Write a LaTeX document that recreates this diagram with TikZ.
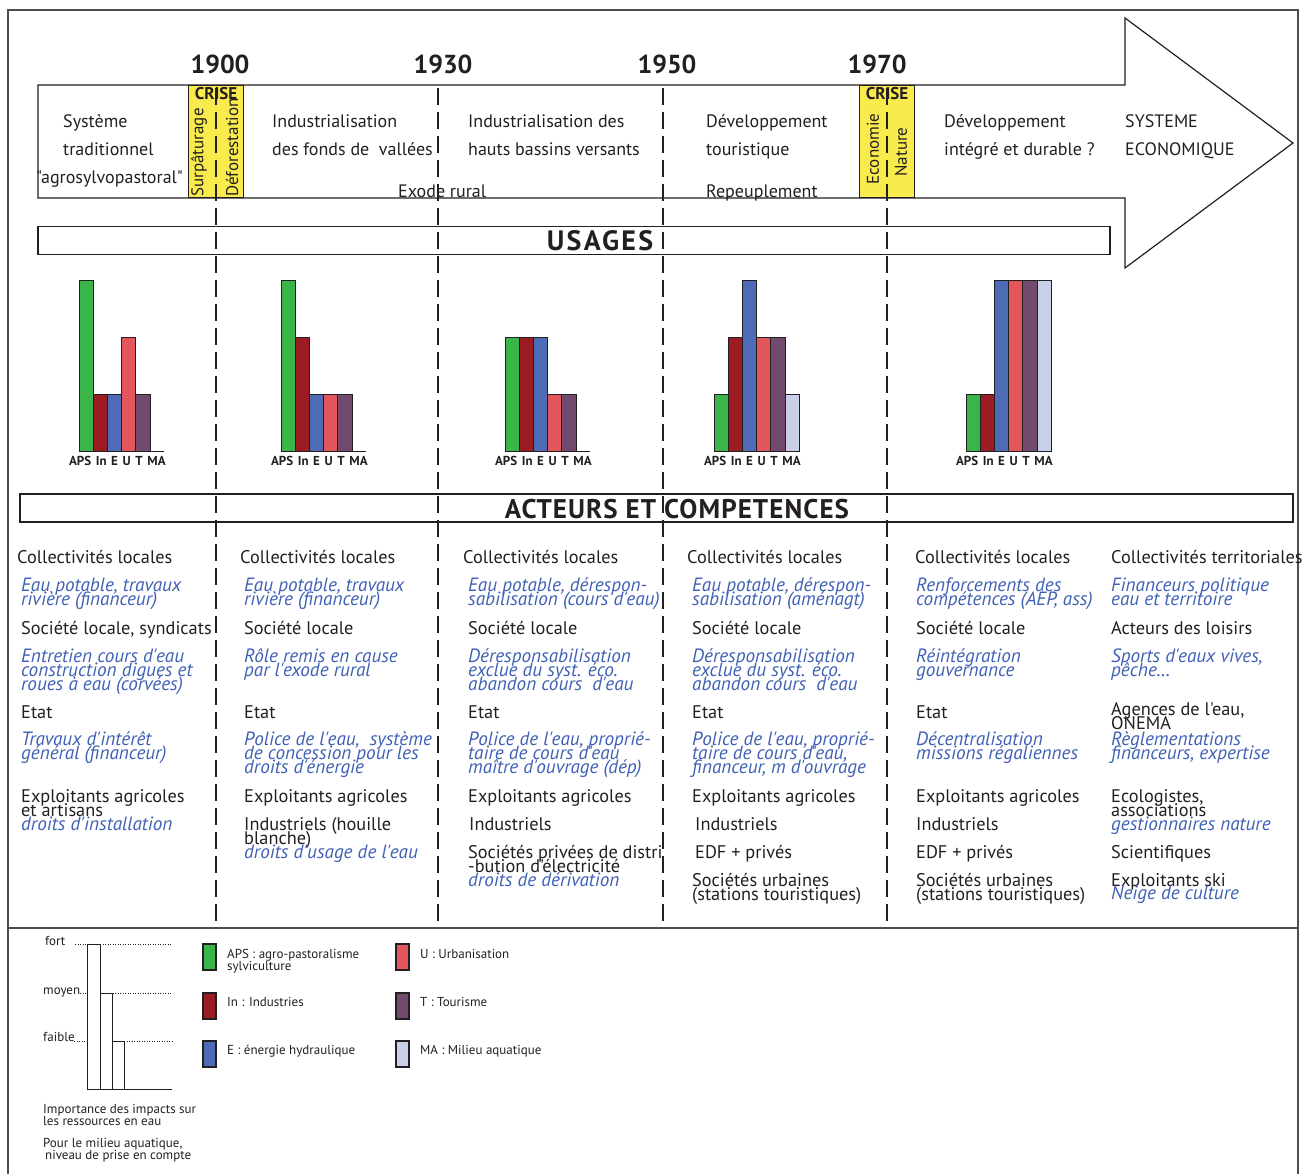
\documentclass[tikz,border=0pt]{standalone}
\usepackage{fontspec}
\setmainfont{PT Sans}[Ligatures=TeXOff]
\usetikzlibrary{positioning,calc}

\definecolor{ink}{HTML}{231F20}
\definecolor{roleblue}{HTML}{3F60B5}
\definecolor{crisey}{HTML}{F9EA4E}
\definecolor{colAPS}{HTML}{3AB54A}
\definecolor{colIn}{HTML}{9C1C23}
\definecolor{colE}{HTML}{4E6CB5}
\definecolor{colU}{HTML}{E3575C}
\definecolor{colT}{HTML}{724A6C}
\definecolor{colMA}{HTML}{C8D0E8}

\newcommand{\widespaces}{\spaceskip=4.6pt\relax}

% one node per printed line, [#1]pt apart
\newcommand{\textlines}[6][14]{%
  \foreach \linetext [count=\k from 0] in {#6}
    \node[#2] (#3_\k) at ({#4},{#5+#1*\k}) {\linetext};
}

% bars of one period: level/colour for APS, In, E, U, T, MA
\newcommand{\usagechart}[3]{%
  \coordinate (#1) at (#2,\base);
  \foreach \lvl/\bcol [count=\i from 0] in {#3} {
    \ifnum\lvl>0
      \draw[bar, fill=\bcol] ($(#1)+(\i*\barw,0)$) rectangle ++(\barw,-\lvl*\lev);
    \fi
  }
  \draw[bar] (#1) -- ++(6*\barw,0) coordinate (#1_end);
  \node[barlabel, below=5pt of $(#1)!0.45!(#1_end)$] (#1_lab) {\widespaces APS In E U T MA};
}

\begin{document}
\begin{tikzpicture}[
    x=1pt, y=-1pt,
    frame/.style={draw=ink!80, line width=1.3pt},
    timeline/.style={draw=ink, line width=1.2pt},
    period/.style={draw=ink, line width=1.2pt, dash pattern=on 17pt off 7pt},
    crise/.style={
        draw=ink, fill=crisey, line width=1pt, inner sep=0pt,
        minimum width=55pt, minimum height=112pt
    },
    band/.style={draw=ink, line width=1.4pt, inner sep=0pt, minimum height=28pt},
    year/.style={font=\fontsize{26}{26}\selectfont\bfseries, text=ink},
    heading/.style={font=\fontsize{27}{27}\selectfont\bfseries, text=ink, inner sep=0pt},
    crisetitle/.style={font=\fontsize{17}{17}\selectfont\bfseries, text=ink, inner sep=0pt},
    phase/.style={font=\fontsize{18}{18}\selectfont, text=ink, inner sep=0pt, anchor=base west},
    vtext/.style={font=\fontsize{17}{17}\selectfont, text=ink, rotate=90, inner sep=0pt},
    actor/.style={font=\fontsize{18.3}{18}\selectfont, text=ink, inner sep=0pt, anchor=base west},
    role/.style={font=\fontsize{19.2}{14}\selectfont\itshape, text=roleblue, inner sep=0pt, anchor=base west},
    bar/.style={draw=ink, line width=1pt},
    barlabel/.style={font=\fontsize{13}{13}\selectfont\bfseries, text=ink, inner sep=0pt},
    legtext/.style={font=\fontsize{13}{13}\selectfont, text=ink, inner sep=0pt, anchor=base west},
    swatch/.style={draw=ink, line width=1.2pt, inner sep=0pt, minimum width=13pt, minimum height=26pt},
    gauge/.style={draw=ink, line width=0.8pt, dash pattern=on 1pt off 1.5pt}
]

\useasboundingbox (0,0) rectangle (1307,1174);

% Define positioning
\pgfmathsetmacro{\barw}{14.2}
\pgfmathsetmacro{\lev}{56.7}
\pgfmathsetmacro{\base}{451}

% ============================== FRAME ==============================
\draw[frame] (8,1174) -- (8,10) -- (1298,10) -- (1298,1174);
\draw[frame] (8,928) -- (1298,928);

% ============================== TIMELINE ==============================
\draw[timeline] (38,85) -- (1125,85) -- (1125,18) -- (1293,143) -- (1125,268) -- (1125,198) -- (38,198) -- cycle;

\node[year] (year_1900) at (220,64) {1900};
\node[year] (year_1930) at (443,64) {1930};
\node[year] (year_1950) at (667,64) {1950};
\node[year] (year_1970) at (877,64) {1970};

% TIMELINE: crises
\node[crise] (crise_1900) at (216,142) {};
\node[crisetitle, below=2pt of crise_1900.north] (crise_1900_t) {CRISE};
\node[vtext, anchor=west] (surpaturage) at (199,197) {Surpâturage};
\node[vtext, anchor=west] (deforestation) at (232,197) {Déforestation};

\node[crise] (crise_1970) at (887,142) {};
\node[crisetitle, below=2pt of crise_1970.north] (crise_1970_t) {CRISE};
\node[vtext] (economie) at (873,149) {Economie};
\node[vtext] (nature) at (901,152) {Nature};

% TIMELINE: periods
\textlines[28]{phase}{trad}{63}{128}{Système,traditionnel}
\node[phase] (agro) at (36,184) {"agrosylvopastoral"};
\textlines[28]{phase}{indus_v}{272}{128}{Industrialisation,{des fonds de\ \ vallées}}
\textlines[28]{phase}{indus_h}{468}{128}{{Industrialisation des},{hauts bassins versants}}
\node[phase] (exode) at (398,198) {Exode rural};
\textlines[28]{phase}{touris}{706}{128}{Développement,touristique}
\node[phase] (repeuple) at (706,198) {Repeuplement};
\textlines[28]{phase}{durable}{944}{128}{Développement,{intégré et durable ?}}
\textlines[28]{phase}{systeme}{1125}{128}{SYSTEME,ECONOMIQUE}

% ============================== USAGES ==============================
\node[band, minimum width=1072pt] (usages_box) at (574,240.5) {};
\node[heading, font=\fontsize{28}{28}\selectfont\bfseries] (usages) at (600,241) {\addfontfeatures{LetterSpace=8}USAGES};

\usagechart{use_a}{79}{3/colAPS,1/colIn,1/colE,2/colU,1/colT,0/colMA}
\usagechart{use_b}{281}{3/colAPS,2/colIn,1/colE,1/colU,1/colT,0/colMA}
\usagechart{use_c}{505}{2/colAPS,2/colIn,2/colE,1/colU,1/colT,0/colMA}
\usagechart{use_d}{714}{1/colAPS,2/colIn,3/colE,2/colU,2/colT,1/colMA}
\usagechart{use_e}{966}{1/colAPS,1/colIn,3/colE,3/colU,3/colT,3/colMA}

% ============================== ACTEURS ==============================
\node[band, minimum width=1273pt] (acteurs_box) at (656.5,508) {};
\node[heading] (acteurs) at (677,509) {\addfontfeatures{LetterSpace=4}ACTEURS ET COMPETENCES};

% ACTEURS: before 1900
\textlines{actor}{a1_coll}{17}{563}{Collectivités locales}
\textlines{role}{a1_coll_r}{21}{591}{{Eau potable, travaux},{rivière (financeur)}}
\textlines{actor}{a1_soc}{21}{634}{{Société locale, syndicats}}
\textlines{role}{a1_soc_r}{21}{662}{{Entretien cours d'eau},{construction digues et},{roues à eau (corvées)}}
\textlines{actor}{a1_etat}{21}{718}{Etat}
\textlines{role}{a1_etat_r}{21}{745}{{Travaux d'intérêt},{général (financeur)}}
\textlines{actor}{a1_expl}{21}{802}{{Exploitants agricoles},{et artisans}}
\textlines{role}{a1_expl_r}{21}{830}{{droits d'installation}}

% ACTEURS: 1900-1930
\textlines{actor}{a2_coll}{240}{563}{Collectivités locales}
\textlines{role}{a2_coll_r}{244}{591}{{Eau potable, travaux},{rivière (financeur)}}
\textlines{actor}{a2_soc}{244}{634}{Société locale}
\textlines{role}{a2_soc_r}{244}{662}{{Rôle remis en cause},{par l'exode rural}}
\textlines{actor}{a2_etat}{244}{718}{Etat}
\textlines{role}{a2_etat_r}{244}{745}{{Police de l'eau,\ \ système},{de concession pour les},{droits d'énergie}}
\textlines{actor}{a2_expl}{244}{802}{{Exploitants agricoles}}
\textlines{actor}{a2_ind}{244}{830}{{Industriels (houille},{blanche)}}
\textlines{role}{a2_ind_r}{244}{858}{{droits d'usage de l'eau}}

% ACTEURS: 1930-1950
\textlines{actor}{a3_coll}{463}{563}{Collectivités locales}
\textlines{role}{a3_coll_r}{468}{591}{{Eau potable, dérespon-},{sabilisation (cours d'eau)}}
\textlines{actor}{a3_soc}{468}{634}{Société locale}
\textlines{role}{a3_soc_r}{468}{662}{Déresponsabilisation,{exclue du syst. éco.},{abandon cours\ \ d'eau}}
\textlines{actor}{a3_etat}{468}{718}{Etat}
\textlines{role}{a3_etat_r}{468}{745}{{Police de l'eau, proprié-},{taire de cours d'eau},{maître d'ouvrage (dép)}}
\textlines{actor}{a3_expl}{468}{802}{{Exploitants agricoles}}
\textlines{actor}{a3_ind}{469}{830}{Industriels}
\textlines{actor}{a3_soc_priv}{468}{858}{{Sociétés privées de distri},{-bution d'électricité}}
\textlines{role}{a3_soc_priv_r}{468}{886}{{droits de dérivation}}

% ACTEURS: 1950-1970
\textlines{actor}{a4_coll}{687}{563}{Collectivités locales}
\textlines{role}{a4_coll_r}{692}{591}{{Eau potable, dérespon-},{sabilisation (aménagt)}}
\textlines{actor}{a4_soc}{692}{634}{Société locale}
\textlines{role}{a4_soc_r}{692}{662}{Déresponsabilisation,{exclue du syst. éco.},{abandon cours\ \ d'eau}}
\textlines{actor}{a4_etat}{692}{718}{Etat}
\textlines{role}{a4_etat_r}{692}{745}{{Police de l'eau, proprié-},{taire de cours d'eau,},{financeur, m d'ouvrage}}
\textlines{actor}{a4_expl}{692}{802}{{Exploitants agricoles}}
\textlines{actor}{a4_ind}{695}{830}{Industriels}
\textlines{actor}{a4_edf}{695}{858}{{EDF + privés}}
\textlines{actor}{a4_urb}{692}{886}{{Sociétés urbaines},{(stations touristiques)}}

% ACTEURS: after 1970
\textlines{actor}{a5_coll}{915}{563}{Collectivités locales}
\textlines{role}{a5_coll_r}{916}{591}{{Renforcements des},{compétences (AEP, ass)}}
\textlines{actor}{a5_soc}{916}{634}{Société locale}
\textlines{role}{a5_soc_r}{916}{662}{Réintégration,gouvernance}
\textlines{actor}{a5_etat}{916}{718}{Etat}
\textlines{role}{a5_etat_r}{916}{745}{Décentralisation,{missions régaliennes}}
\textlines{actor}{a5_expl}{916}{802}{{Exploitants agricoles}}
\textlines{actor}{a5_ind}{916}{830}{Industriels}
\textlines{actor}{a5_edf}{916}{858}{{EDF + privés}}
\textlines{actor}{a5_urb}{916}{886}{{Sociétés urbaines},{(stations touristiques)}}

% ACTEURS: economic system
\textlines{actor}{a6_coll}{1111}{563}{{Collectivités territoriales}}
\textlines{role}{a6_coll_r}{1111}{591}{{Financeurs politique},{eau et territoire}}
\textlines{actor}{a6_lois}{1111}{634}{{Acteurs des loisirs}}
\textlines{role}{a6_lois_r}{1111}{662}{{Sports d'eaux vives,},{pêche\ldots}}
\textlines{actor}{a6_agen}{1111}{715}{{Agences de l'eau,},ONEMA}
\textlines{role}{a6_agen_r}{1111}{745}{Règlementations,{financeurs, expertise}}
\textlines{actor}{a6_eco}{1111}{802}{{Ecologistes,},associations}
\textlines{role}{a6_eco_r}{1111}{830}{{gestionnaires nature}}
\textlines{actor}{a6_sci}{1111}{858}{Scientifiques}
\textlines{actor}{a6_ski}{1111}{886}{{Exploitants ski}}
\textlines{role}{a6_ski_r}{1111}{899}{{Neige de culture}}

% period separators
\foreach \px in {216,438,663,887}
    \draw[period] (\px,88) -- (\px,928);

% ============================== LEGEND ==============================
\node[legtext] (fort) at (45,945) {fort};
\node[legtext] (moyen) at (43,994) {moyen};
\node[legtext] (faible) at (43,1041) {faible};
\draw[gauge] (75,944) -- (172,944);
\draw[gauge] (80,993) -- (172,993);
\draw[gauge] (74,1041) -- (172,1041);
\draw[bar, fill=white] (87,944) rectangle (100,1089);
\draw[bar, fill=white] (100,993) rectangle (112,1089);
\draw[bar, fill=white] (112,1041) rectangle (124,1089);
\draw[bar] (87,1089) -- (172,1089);

\textlines[12]{legtext}{imp}{43}{1113}{{Importance des impacts sur},{les ressources en eau}}
\node[legtext] (milieu_0) at (43,1147) {Pour le milieu aquatique,};
\node[legtext] (milieu_1) at (45,1159) {niveau de prise en compte};

\node[swatch, fill=colAPS] (sw_aps) at (209.5,957) {};
\node[swatch, fill=colIn] (sw_in) at (209.5,1006) {};
\node[swatch, fill=colE] (sw_e) at (209.5,1054) {};
\node[swatch, fill=colU] (sw_u) at (402.5,957) {};
\node[swatch, fill=colT] (sw_t) at (402.5,1006) {};
\node[swatch, fill=colMA] (sw_ma) at (402.5,1054) {};

\node[legtext] (lg_aps) at (227,958) {APS : agro-pastoralisme};
\node[legtext] (lg_aps2) at (227,970) {sylviculture};
\node[legtext] (lg_in) at (227,1006) {In : Industries};
\node[legtext] (lg_e) at (227,1054) {E : énergie hydraulique};
\node[legtext] (lg_u) at (420,958) {U : Urbanisation};
\node[legtext] (lg_t) at (420,1006) {T : Tourisme};
\node[legtext] (lg_ma) at (420,1054) {MA : Milieu aquatique};

\end{tikzpicture}
\end{document}
